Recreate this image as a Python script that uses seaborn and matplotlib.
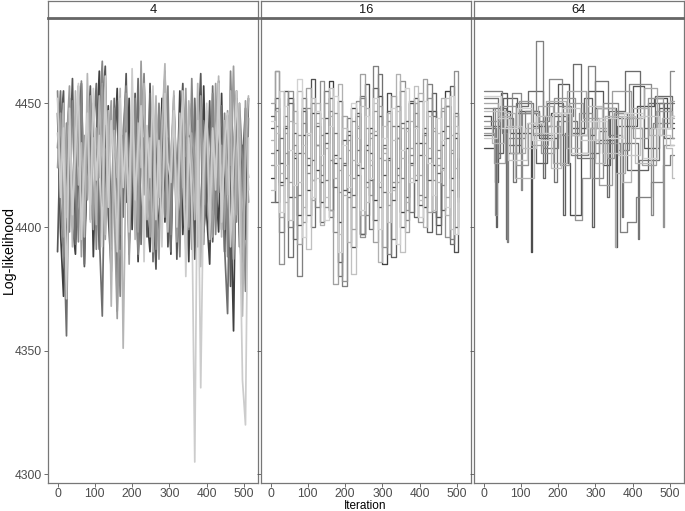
import matplotlib

matplotlib.use("Agg")

import matplotlib.pyplot as plt
import numpy as np
import pandas as pd
import seaborn as sns

# panel titles (thinning)
PANELS = ["4", "16", "64"]
END_ITER = 512

# thin = 4 : seven chains, one value every 8 iterations
THIN4_STEP = 8
THIN4 = [
    [4446, 4398, 4372, 4430, 4452, 4401, 4389, 4441, 4458, 4396, 4420, 4447, 4388,
     4435, 4463, 4402, 4415, 4449, 4394, 4428, 4456, 4391, 4437, 4410, 4452, 4399,
     4443, 4386, 4431, 4459, 4405, 4390, 4447, 4418, 4395, 4452, 4402, 4436, 4389,
     4445, 4411, 4455, 4397, 4428, 4386, 4450, 4413, 4440, 4393, 4457, 4405, 4385,
     4446, 4421, 4398, 4454, 4390, 4438, 4412, 4358, 4447, 4401, 4433, 4395, 4452],
    [4390, 4440, 4455, 4385, 4425, 4460, 4395, 4418, 4450, 4384, 4432, 4457, 4400,
     4427, 4391, 4448, 4465, 4405, 4382, 4439, 4451, 4397, 4426, 4462, 4393, 4416,
     4454, 4388, 4430, 4449, 4396, 4458, 4410, 4383, 4444, 4425, 4461, 4392, 4419,
     4453, 4387, 4436, 4458, 4402, 4421, 4448, 4387, 4434, 4462, 4398, 4412, 4451,
     4394, 4428, 4459, 4399, 4417, 4445, 4376, 4430, 4455, 4392, 4425, 4448, 4410],
    [4432, 4455, 4401, 4356, 4445, 4412, 4393, 4457, 4420, 4385, 4446, 4403, 4438,
     4458, 4397, 4364, 4441, 4423, 4398, 4452, 4366, 4429, 4404, 4450, 4389, 4442,
     4415, 4460, 4393, 4436, 4408, 4454, 4386, 4425, 4447, 4399, 4463, 4413, 4390,
     4448, 4421, 4396, 4455, 4409, 4437, 4391, 4452, 4418, 4400, 4443, 4426, 4394,
     4457, 4405, 4431, 4449, 4392, 4365, 4440, 4416, 4452, 4398, 4377, 4436, 4420],
    [4455, 4410, 4388, 4442, 4398, 4451, 4427, 4394, 4459, 4403, 4436, 4418, 4450,
     4391, 4444, 4467, 4405, 4430, 4392, 4448, 4414, 4372, 4439, 4457, 4400, 4423,
     4452, 4389, 4434, 4462, 4406, 4420, 4446, 4391, 4450, 4428, 4404, 4457, 4397,
     4440, 4415, 4388, 4451, 4432, 4399, 4460, 4409, 4425, 4447, 4393, 4441, 4417,
     4454, 4397, 4433, 4411, 4446, 4388, 4463, 4419, 4402, 4450, 4426, 4374, 4444],
    [4424, 4446, 4396, 4433, 4457, 4404, 4428, 4449, 4388, 4437, 4411, 4453, 4399,
     4440, 4420, 4458, 4395, 4431, 4451, 4407, 4363, 4436, 4422, 4454, 4385, 4445,
     4427, 4398, 4467, 4413, 4439, 4396, 4452, 4418, 4387, 4443, 4460, 4402, 4429,
     4449, 4394, 4435, 4416, 4456, 4400, 4438, 4427, 4392, 4453, 4409, 4444, 4421,
     4396, 4458, 4414, 4433, 4399, 4447, 4425, 4465, 4405, 4436, 4390, 4451, 4415],
    [4438, 4419, 4450, 4404, 4441, 4392, 4455, 4417, 4434, 4396, 4462, 4409, 4436,
     4401, 4453, 4425, 4397, 4447, 4368, 4439, 4420, 4456, 4351, 4430, 4414, 4449,
     4395, 4442, 4424, 4458, 4403, 4436, 4390, 4453, 4412, 4440, 4466, 4398, 4428,
     4455, 4407, 4446, 4419, 4391, 4451, 4429, 4403, 4458, 4384, 4433, 4447, 4406,
     4439, 4420, 4461, 4396, 4443, 4413, 4455, 4387, 4430, 4450, 4364, 4427, 4453],
    [4452, 4412, 4440, 4371, 4448, 4405, 4431, 4458, 4395, 4427, 4446, 4402, 4456,
     4419, 4437, 4392, 4461, 4408, 4443, 4425, 4390, 4452, 4416, 4438, 4398, 4464,
     4411, 4433, 4449, 4386, 4441, 4420, 4457, 4403, 4435, 4392, 4454, 4426, 4418,
     4447, 4400, 4431, 4455, 4380, 4436, 4412, 4305, 4443, 4335, 4421, 4450, 4395,
     4440, 4415, 4458, 4402, 4433, 4446, 4392, 4426, 4455, 4410, 4338, 4320, 4436],
]

# thin = 16 : ten chains, one value every 12 iterations
THIN16_STEP = 12
THIN16 = [
    [4420, 4431, 4418, 4440, 4452, 4428, 4405, 4437, 4415, 4446, 4423,
     4410, 4438, 4459, 4426, 4402, 4435, 4414, 4448, 4421, 4397, 4433,
     4440, 4411, 4453, 4385, 4428, 4416, 4441, 4406, 4432, 4450, 4419,
     4434, 4408, 4447, 4425, 4401, 4439, 4455, 4420, 4436, 4412],
    [4440, 4452, 4426, 4455, 4412, 4438, 4401, 4447, 4425, 4460, 4433,
     4418, 4444, 4407, 4429, 4451, 4415, 4437, 4392, 4446, 4424, 4458,
     4430, 4403, 4445, 4421, 4454, 4411, 4436, 4400, 4443, 4426, 4452,
     4409, 4438, 4419, 4447, 4404, 4433, 4449, 4415, 4390, 4428],
    [4445, 4410, 4436, 4420, 4450, 4395, 4430, 4448, 4405, 4427, 4441,
     4402, 4434, 4452, 4416, 4386, 4425, 4439, 4413, 4445, 4397, 4431,
     4419, 4456, 4408, 4433, 4447, 4388, 4424, 4442, 4412, 4451, 4404,
     4429, 4440, 4398, 4454, 4422, 4407, 4436, 4457, 4400, 4437],
    [4410, 4448, 4398, 4441, 4388, 4430, 4413, 4452, 4428, 4400, 4446,
     4421, 4455, 4404, 4438, 4380, 4426, 4444, 4408, 4431, 4453, 4418,
     4399, 4437, 4462, 4414, 4427, 4395, 4449, 4420, 4440, 4406, 4434,
     4451, 4412, 4428, 4445, 4397, 4424, 4441, 4393, 4446, 4420],
    [4430, 4463, 4417, 4445, 4400, 4433, 4380, 4442, 4422, 4450, 4408,
     4437, 4419, 4447, 4398, 4428, 4376, 4412, 4443, 4425, 4452, 4405,
     4438, 4465, 4416, 4432, 4389, 4441, 4421, 4455, 4403, 4429, 4446,
     4413, 4437, 4458, 4406, 4431, 4417, 4449, 4395, 4438, 4425],
    [4425, 4441, 4385, 4430, 4455, 4412, 4437, 4402, 4448, 4419, 4433,
     4459, 4408, 4427, 4446, 4414, 4378, 4435, 4420, 4451, 4396, 4440,
     4413, 4447, 4428, 4392, 4443, 4418, 4436, 4459, 4407, 4425, 4441,
     4402, 4434, 4452, 4419, 4428, 4447, 4396, 4430, 4463, 4415],
    [4450, 4463, 4404, 4438, 4418, 4447, 4393, 4430, 4456, 4411, 4442,
     4425, 4450, 4407, 4377, 4423, 4445, 4431, 4399, 4440, 4462, 4416,
     4436, 4394, 4449, 4427, 4409, 4453, 4418, 4440, 4398, 4432, 4450,
     4421, 4460, 4406, 4439, 4425, 4448, 4412, 4431, 4445, 4410],
    [4435, 4447, 4422, 4410, 4443, 4429, 4455, 4408, 4437, 4419, 4450,
     4401, 4432, 4445, 4420, 4458, 4413, 4394, 4427, 4441, 4405, 4448,
     4425, 4439, 4386, 4430, 4446, 4415, 4462, 4428, 4410, 4443, 4421,
     4454, 4400, 4432, 4440, 4418, 4452, 4405, 4437, 4424, 4433],
    [4415, 4438, 4455, 4425, 4403, 4442, 4418, 4433, 4391, 4452, 4420,
     4444, 4412, 4456, 4428, 4397, 4440, 4421, 4381, 4436, 4449, 4410,
     4427, 4450, 4418, 4441, 4402, 4435, 4447, 4390, 4439, 4420, 4457,
     4411, 4429, 4445, 4407, 4438, 4423, 4452, 4399, 4441, 4430],
    [4443, 4425, 4406, 4449, 4431, 4417, 4460, 4396, 4438, 4412, 4447,
     4429, 4403, 4441, 4453, 4390, 4433, 4416, 4450, 4426, 4407, 4445,
     4420, 4452, 4399, 4436, 4414, 4448, 4393, 4431, 4456, 4418, 4440,
     4404, 4451, 4426, 4413, 4444, 4435, 4408, 4453, 4397, 4437],
]

# thin = 64 : fourteen chains, (iteration, value) where the chain moves
THIN64 = [
    [(0, 4432), (32, 4418), (40, 4447), (72, 4438), (128, 4390), (131, 4441), (180, 4446), (226, 4426),
     (233, 4405), (262, 4437), (300, 4448), (355, 4392), (358, 4441), (412, 4449), (456, 4452), (492, 4440)],
    [(0, 4445), (20, 4441), (48, 4454), (64, 4430), (96, 4447), (150, 4436), (200, 4458), (230, 4440),
     (280, 4455), (320, 4425), (340, 4444), (400, 4457), (430, 4432), (470, 4448), (500, 4442)],
    [(0, 4440), (34, 4400), (37, 4430), (52, 4452), (90, 4446), (140, 4426), (170, 4450), (214, 4405),
     (218, 4438), (270, 4452), (292, 4400), (296, 4435), (350, 4446), (384, 4423), (440, 4450), (484, 4436)],
    [(0, 4437), (26, 4448), (60, 4395), (64, 4433), (100, 4449), (120, 4455), (160, 4420), (166, 4445),
     (240, 4466), (262, 4430), (310, 4439), (330, 4412), (336, 4447), (380, 4463), (420, 4440), (460, 4453), (505, 4445)],
    [(0, 4452), (40, 4428), (44, 4444), (80, 4418), (86, 4450), (132, 4437), (190, 4418), (196, 4443),
     (250, 4428), (300, 4459), (335, 4437), (370, 4404), (374, 4434), (415, 4395), (418, 4427), (470, 4450)],
    [(0, 4455), (50, 4438), (62, 4394), (66, 4436), (110, 4447), (140, 4475), (160, 4432), (200, 4449),
     (235, 4429), (280, 4465), (300, 4434), (365, 4398), (385, 4402), (410, 4412), (450, 4418), (480, 4425), (500, 4429)],
    [(0, 4448), (30, 4405), (36, 4440), (76, 4454), (100, 4415), (104, 4446), (150, 4443), (176, 4460),
     (210, 4437), (256, 4446), (290, 4420), (320, 4450), (360, 4431), (390, 4458), (450, 4405), (454, 4442), (500, 4463)],
    [(0, 4443), (45, 4449), (88, 4425), (120, 4442), (155, 4430), (190, 4452), (245, 4403), (265, 4420),
     (285, 4440), (330, 4428), (350, 4446), (400, 4436), (440, 4452), (480, 4400), (484, 4433)],
    [(0, 4438), (28, 4426), (58, 4440), (94, 4451), (126, 4433), (172, 4441), (205, 4425), (228, 4450),
     (268, 4444), (310, 4417), (345, 4455), (395, 4440), (425, 4425), (462, 4447), (505, 4436)],
    [(0, 4450), (40, 4445), (70, 4430), (110, 4440), (145, 4449), (185, 4426), (225, 4455), (275, 4440),
     (305, 4448), (352, 4392), (355, 4422), (380, 4444), (430, 4456), (465, 4440), (500, 4451)],
    [(0, 4441), (24, 4434), (56, 4446), (84, 4420), (134, 4438), (168, 4451), (220, 4432), (258, 4443),
     (298, 4426), (326, 4445), (372, 4418), (396, 4448), (445, 4437), (478, 4444)],
    [(0, 4447), (60, 4441), (104, 4432), (140, 4445), (182, 4424), (208, 4446), (238, 4437), (278, 4449),
     (318, 4430), (368, 4445), (406, 4426), (448, 4440), (488, 4432), (505, 4420)],
    [(0, 4436), (36, 4444), (66, 4427), (116, 4442), (160, 4438), (210, 4448), (260, 4435), (310, 4444),
     (360, 4429), (420, 4445), (470, 4437), (500, 4433)],
    [(0, 4453), (48, 4440), (90, 4448), (130, 4435), (186, 4446), (232, 4430), (282, 4443), (330, 4436),
     (376, 4446), (428, 4428), (466, 4440), (504, 4445)],
]

X_TICKS = [0, 100, 200, 300, 400, 500]
Y_TICKS = [4300, 4350, 4400, 4450]


def grid_frame(chains: list[list[int]], step: int) -> pd.DataFrame:
    rows = []
    for k, vals in enumerate(chains):
        for i, v in enumerate(vals):
            rows.append({"Iteration": i * step, "loglik": v, "chain": f"c{k:02d}"})
    return pd.DataFrame(rows)


def change_frame(chains: list[list[tuple]]) -> pd.DataFrame:
    rows = []
    for k, pts in enumerate(chains):
        pts = list(pts) + [(END_ITER, pts[-1][1])]
        for it, v in pts:
            rows.append({"Iteration": it, "loglik": v, "chain": f"c{k:02d}"})
    return pd.DataFrame(rows)


def grey_palette(n: int, start: float, end: float) -> list:
    levels = np.linspace(start, end, n)
    return [(g, g, g) for g in levels]


FRAMES = {
    "4": grid_frame(THIN4, THIN4_STEP),
    "16": grid_frame(THIN16, THIN16_STEP),
    "64": change_frame(THIN64),
}
PALETTES = {
    "4": grey_palette(len(THIN4), 0.25, 0.8),
    "16": grey_palette(len(THIN16), 0.25, 0.82),
    "64": grey_palette(len(THIN64), 0.3, 0.82),
}

sns.set_theme(style="white")
plt.rcParams["font.family"] = ["Liberation Sans", "DejaVu Sans"]

fig = plt.figure(figsize=(6.85, 5.11), dpi=100)
W, H = 685, 511
lefts = [48, 261, 474]
pw = 210
top_px, bot_px, strip_px = 18, 483, 18
for j, name in enumerate(PANELS):
    l = lefts[j] / W
    b = 1 - bot_px / H
    h = (bot_px - top_px) / H
    ax = fig.add_axes([l, b, pw / W, h])
    draw = "default" if name == "4" else "steps-post"
    lw = 1.25 if name == "4" else 0.95
    sns.lineplot(data=FRAMES[name], x="Iteration", y="loglik", hue="chain",
                 palette=PALETTES[name], estimator=None,
                 legend=False, linewidth=lw, drawstyle=draw, ax=ax)
    ax.set_xlim(-25.6, 537.6)
    ax.set_ylim(4296.5, 4484.5)
    ax.set_xticks(X_TICKS)
    ax.set_yticks(Y_TICKS)
    ax.tick_params(axis="both", length=2.8, width=0.6, color="#555555",
                   labelsize=8.7, labelcolor="#4D4D4D", pad=1.5,
                   bottom=True, left=True)
    ax.tick_params(axis="x", pad=0.6)
    if j > 0:
        ax.set_yticklabels([])
    ax.set_xlabel("")
    ax.set_ylabel("")
    for sp in ax.spines.values():
        sp.set_color("#777777")
        sp.set_linewidth(0.9)
    ax.grid(False)

    sax = fig.add_axes([l, 1 - top_px / H, pw / W, strip_px / H - 0.002])
    sax.set_xticks([])
    sax.set_yticks([])
    for sp in sax.spines.values():
        sp.set_color("#777777")
        sp.set_linewidth(0.9)
    sax.spines["bottom"].set_linewidth(2.0)
    sax.spines["bottom"].set_color("#666666")
    sax.text(0.5, 0.45, name, ha="center", va="center", fontsize=9.3, color="#1A1A1A")

fig.text(8.5 / W, 0.51, "Log-likelihood", rotation=90, ha="center", va="center",
         fontsize=10.2, color="#000000")
fig.text(365.5 / W, 1 - 506 / H, "Iteration", ha="center", va="center",
         fontsize=8.5, color="#000000")

fig.savefig("out.png", dpi=100)
